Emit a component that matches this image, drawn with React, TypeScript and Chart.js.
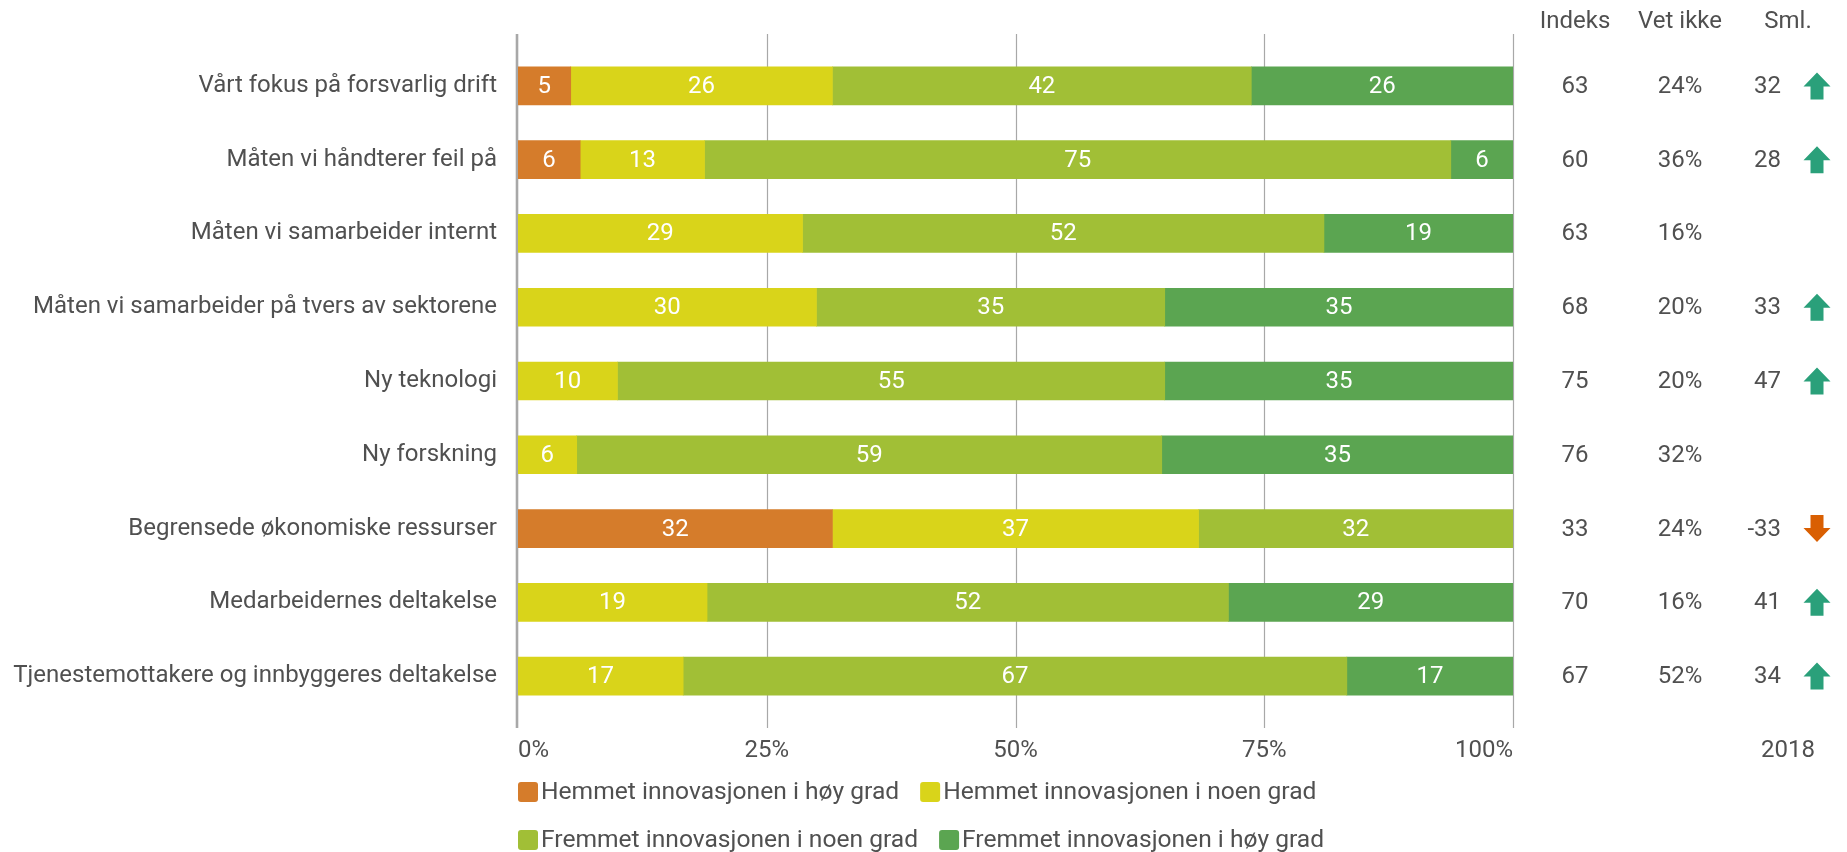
import React, { useEffect, useRef } from "react";
import { Chart, registerables } from "chart.js";

Chart.register(...registerables);

const categories = [
  "Vårt fokus på forsvarlig drift",
  "Måten vi håndterer feil på",
  "Måten vi samarbeider internt",
  "Måten vi samarbeider på tvers av sektorene",
  "Ny teknologi",
  "Ny forskning",
  "Begrensede økonomiske ressurser",
  "Medarbeidernes deltakelse",
  "Tjenestemottakere og innbyggeres deltakelse",
];

const seriesNames = [
  "Hemmet innovasjonen i høy grad",
  "Hemmet innovasjonen i noen grad",
  "Fremmet innovasjonen i noen grad",
  "Fremmet innovasjonen i høy grad",
];

const hemmetHoy = [5.3, 6.25, null, null, null, null, 31.6, null, null];
const hemmetNoen = [26.3, 12.5, 28.6, 30, 10, 5.9, 36.8, 19.0, 16.6];
const fremmetNoen = [42.1, 75, 52.4, 35, 55, 58.8, 31.6, 52.4, 66.7];
const fremmetHoy = [26.3, 6.25, 19.0, 35, 35, 35.3, null, 28.6, 16.7];

const indeks = [63, 60, 63, 68, 75, 76, 33, 70, 67];
const vetIkke = [24, 36, 16, 20, 20, 32, 24, 16, 52];
const sml = [32, 28, null, 33, 47, null, -33, 41, 34];

const tableHeaders = ["Indeks", "Vet ikke", "Sml."];
const smlYear = "2018";
const xTicks = [0, 25, 50, 75, 100];

const colors = ["#D57C2B", "#D9D41A", "#A1BF36", "#5BA551"];
const upColor = "#2AA07A";
const downColor = "#D95F02";
const textColor = "#505050";
const gridColor = "#A8A8A8";
const FONT = "Roboto";
const FS = 24;
const LEGEND_FS = 24.6;

const extrasPlugin = {
  id: "extras",
  beforeDatasetsDraw(chart: any) {
    const { ctx, chartArea, scales } = chart;
    const x = scales.x;
    ctx.save();
    xTicks.forEach((v, i) => {
      const px = x.getPixelForValue(v);
      ctx.beginPath();
      ctx.strokeStyle = gridColor;
      ctx.lineWidth = i === 0 ? 2.6 : 1.2;
      const xx = i === 0 ? px - 1 : Math.round(px) + 0.5;
      ctx.moveTo(xx, chartArea.top - 15);
      ctx.lineTo(xx, chartArea.bottom + 15);
      ctx.stroke();
    });
    ctx.restore();
  },
  afterDatasetsDraw(chart: any) {
    const { ctx } = chart;
    ctx.save();
    ctx.font = `${FS}px ${FONT}`;
    ctx.fillStyle = "#ffffff";
    ctx.textAlign = "center";
    ctx.textBaseline = "middle";
    chart.data.datasets.forEach((ds: any, di: number) => {
      const meta = chart.getDatasetMeta(di);
      meta.data.forEach((el: any, i: number) => {
        const v = ds.data[i];
        if (v === null || v === undefined) return;
        const cx = (el.x + el.base) / 2;
        ctx.fillText(String(Math.round(v)), cx, el.y + 1);
      });
    });
    ctx.restore();
  },
  afterDraw(chart: any) {
    const { ctx, chartArea, scales } = chart;
    const y = scales.y;
    const r = chartArea.right;
    ctx.save();
    ctx.font = `${FS}px ${FONT}`;
    ctx.fillStyle = textColor;
    ctx.textBaseline = "middle";
    const colIdx = r + 62;
    const colVet = r + 167;
    const colSml = r + 275;
    const smlRight = r + 268;
    const arrowX = r + 304;
    const headerY = chartArea.top - 27;
    ctx.textAlign = "center";
    ctx.fillText(tableHeaders[0], colIdx, headerY);
    ctx.fillText(tableHeaders[1], colVet, headerY);
    ctx.fillText(tableHeaders[2], colSml, headerY);
    categories.forEach((_, i) => {
      const cy = y.getPixelForValue(i) + 1;
      ctx.fillStyle = textColor;
      ctx.textAlign = "center";
      ctx.fillText(String(indeks[i]), colIdx, cy);
      ctx.fillText(vetIkke[i] + "%", colVet, cy);
      const s = sml[i];
      if (s !== null && s !== undefined) {
        ctx.textAlign = "right";
        ctx.fillText(String(s), smlRight, cy);
        const up = s >= 0;
        const ay = cy - 1;
        ctx.fillStyle = up ? upColor : downColor;
        ctx.beginPath();
        const d = up ? 1 : -1;
        ctx.moveTo(arrowX, ay - 13.5 * d);
        ctx.lineTo(arrowX + 13.5, ay + 0.5 * d);
        ctx.lineTo(arrowX + 6.5, ay + 0.5 * d);
        ctx.lineTo(arrowX + 6.5, ay + 13.5 * d);
        ctx.lineTo(arrowX - 6.5, ay + 13.5 * d);
        ctx.lineTo(arrowX - 6.5, ay + 0.5 * d);
        ctx.lineTo(arrowX - 13.5, ay + 0.5 * d);
        ctx.closePath();
        ctx.fill();
      }
    });
    ctx.fillStyle = textColor;
    ctx.textAlign = "center";
    ctx.fillText(smlYear, colSml, chartArea.bottom + 38);

    // legend
    ctx.font = `${LEGEND_FS}px ${FONT}`;
    const boxSize = 20;
    const maxRight = chartArea.right;
    let lx = chartArea.left;
    let ly = chartArea.bottom + 79;
    chart.data.datasets.forEach((ds: any) => {
      const w = ctx.measureText(ds.label).width;
      const itemW = boxSize + 3 + w;
      if (lx + itemW > maxRight && lx !== chartArea.left) {
        lx = chartArea.left;
        ly += 48;
      }
      ctx.fillStyle = ds.backgroundColor;
      ctx.beginPath();
      if ((ctx as any).roundRect) {
        (ctx as any).roundRect(lx, ly - boxSize / 2, boxSize, boxSize, 3);
      } else {
        ctx.rect(lx, ly - boxSize / 2, boxSize, boxSize);
      }
      ctx.fill();
      ctx.fillStyle = textColor;
      ctx.textAlign = "left";
      ctx.fillText(ds.label, lx + boxSize + 3, ly + 1);
      lx += itemW + 21;
    });
    ctx.restore();
  },
};

export default function App() {
  const canvasRef = useRef<HTMLCanvasElement | null>(null);

  useEffect(() => {
    let chart: Chart | null = null;
    let cancelled = false;
    const make = () => {
      if (cancelled || !canvasRef.current) return;
      Chart.defaults.font.family = FONT;
      chart = new Chart(canvasRef.current, {
        type: "bar",
        data: {
          labels: categories,
          datasets: [hemmetHoy, hemmetNoen, fremmetNoen, fremmetHoy].map((d, i) => ({
            label: seriesNames[i],
            data: d as any,
            backgroundColor: colors[i],
            borderWidth: 0,
            barThickness: 38,
          })),
        },
        options: {
          indexAxis: "y",
          animation: false,
          responsive: true,
          maintainAspectRatio: false,
          layout: { padding: { left: 0, right: 334, top: 49, bottom: 0 } },
          plugins: {
            legend: { display: false },
            tooltip: { enabled: false },
          },
          scales: {
            x: {
              stacked: true,
              min: 0,
              max: 100,
              afterFit: (s: any) => {
                s.height = 139;
              },
              afterBuildTicks: (s: any) => {
                s.ticks = xTicks.map((v) => ({ value: v }));
              },
              grid: { display: false, drawTicks: false },
              border: { display: false },
              ticks: {
                align: "inner",
                padding: 24,
                color: textColor,
                font: { size: FS, family: FONT },
                callback: (v: any) => v + "%",
              },
            },
            y: {
              stacked: true,
              afterFit: (s: any) => {
                s.width = 518;
              },
              grid: { display: false, drawTicks: false },
              border: { display: false },
              ticks: {
                padding: 21,
                color: textColor,
                font: { size: FS, family: FONT },
              },
            },
          },
        },
        plugins: [extrasPlugin],
      } as any);
    };
    if ((document as any).fonts && (document as any).fonts.load) {
      (document as any).fonts.load(`${FS}px ${FONT}`).then(make, make);
    } else {
      make();
    }
    return () => {
      cancelled = true;
      if (chart) chart.destroy();
    };
  }, []);

  return (
    <div style={{ position: "fixed", left: 0, top: 0, width: "1847px", height: "852px", background: "#fff" }}>
      <canvas ref={canvasRef} />
    </div>
  );
}
